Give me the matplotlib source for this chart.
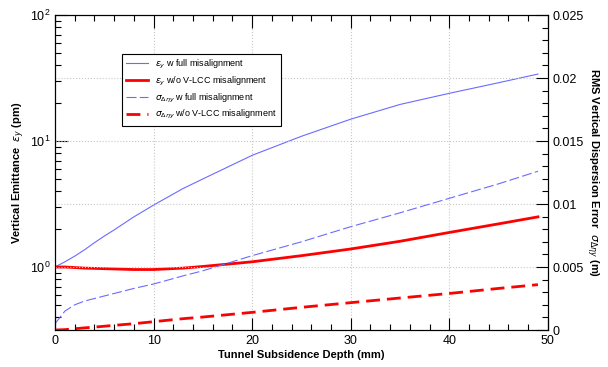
import matplotlib
matplotlib.use("Agg")
import matplotlib.pyplot as plt
from matplotlib.ticker import LogLocator, MultipleLocator, FuncFormatter, NullFormatter

plt.rcParams["font.family"] = ["Liberation Sans", "DejaVu Sans"]

# subsidence depth (mm)
depth = [0, 1, 2, 3, 4, 5, 6, 8, 10, 13, 15, 20, 25, 30, 35, 40, 45, 49]

# vertical emittance (pm), left log axis
eps_full = [1.0, 1.1, 1.22, 1.37, 1.56, 1.76, 1.97, 2.5, 3.1, 4.2, 5.0, 7.7, 10.9, 14.9, 19.5, 23.9, 29.0, 34.0]
eps_vlcc = [1.0, 1.0, 0.99, 0.98, 0.975, 0.97, 0.965, 0.955, 0.955, 0.98, 1.01, 1.10, 1.23, 1.39, 1.60, 1.88, 2.20, 2.50]

# rms vertical dispersion error (m), right axis
sig_full = [0.0005, 0.0015, 0.0020, 0.0023, 0.0025, 0.0027, 0.0029, 0.0033, 0.00365, 0.0043, 0.0047,
            0.0059, 0.0070, 0.0082, 0.0093, 0.01045, 0.0116, 0.0126]
sig_vlcc = [0.0, 0.00003, 0.0001, 0.00017, 0.00023, 0.0003, 0.00037, 0.0005, 0.00066, 0.0009, 0.00103,
            0.0014, 0.0018, 0.00217, 0.00254, 0.0029, 0.0033, 0.0036]

fig = plt.figure(figsize=(6.08, 3.67), dpi=100)
ax = fig.add_axes([0.0905, 0.1008, 0.8105, 0.8583])
ax2 = ax.twinx()

blue = "#6b6bff"
l1, = ax.plot(depth, eps_full, color=blue, lw=0.8, label=r"$\varepsilon_y$ w full misalignment")
l2, = ax.plot(depth, eps_vlcc, color="red", lw=2.0, label=r"$\varepsilon_y$ w/o V-LCC misalignment")
l3, = ax2.plot(depth, sig_full, color=blue, lw=0.8, dashes=(9, 3),
               label=r"$\sigma_{\Delta\eta y}$ w full misalignment")
l4, = ax2.plot(depth, sig_vlcc, color="red", lw=2.0, dashes=(5, 2.5),
               label=r"$\sigma_{\Delta\eta y}$ w/o V-LCC misalignment")

ax.set_xlim(0, 50)
ax.set_yscale("log")
ax.set_ylim(10 ** -0.5, 100)
ax2.set_ylim(0, 0.025)

ax.xaxis.set_major_locator(MultipleLocator(10))
ax.xaxis.set_minor_locator(MultipleLocator(2))
ax.yaxis.set_major_locator(LogLocator(base=10))
ax.yaxis.set_minor_locator(LogLocator(base=10, subs=range(2, 10)))
ax.yaxis.set_minor_formatter(NullFormatter())
ax2.yaxis.set_major_locator(MultipleLocator(0.005))
ax2.yaxis.set_minor_locator(MultipleLocator(0.001))
ax2.yaxis.set_major_formatter(FuncFormatter(lambda v, p: "%g" % round(v, 4)))

ax.tick_params(which="both", direction="in", top=True, labelsize=9, width=0.8)
ax.tick_params(which="major", length=9)
ax.tick_params(which="minor", length=4)
ax.tick_params(axis="y", right=False)
ax2.tick_params(which="both", direction="in", labelsize=9, width=0.8)
ax2.tick_params(which="major", length=9)
ax2.tick_params(which="minor", length=4)

ax.grid(axis="x", color="#c8c8c8", ls=":", lw=0.8)
ax2.grid(axis="y", color="#c8c8c8", ls=":", lw=0.8)

ax.set_xlabel("Tunnel Subsidence Depth (mm)", fontsize=8, fontweight="bold", labelpad=2)
ax.set_ylabel(r"Vertical Emittance  $\varepsilon_y$ (pm)", fontsize=8, fontweight="bold", labelpad=2)
ax2.set_ylabel(r"RMS Vertical Dispersion Error  $\sigma_{\Delta\eta y}$ (m)", fontsize=8,
               fontweight="bold", rotation=270, labelpad=12)

leg = ax2.legend(handles=[l1, l2, l3, l4], loc="upper left", bbox_to_anchor=(0.126, 0.892),
                 fontsize=6.5, frameon=True, fancybox=False, edgecolor="black", framealpha=1,
                 handlelength=2.4, borderpad=0.5, labelspacing=0.4)
leg.get_frame().set_linewidth(0.8)

fig.savefig("out.png", dpi=100)
